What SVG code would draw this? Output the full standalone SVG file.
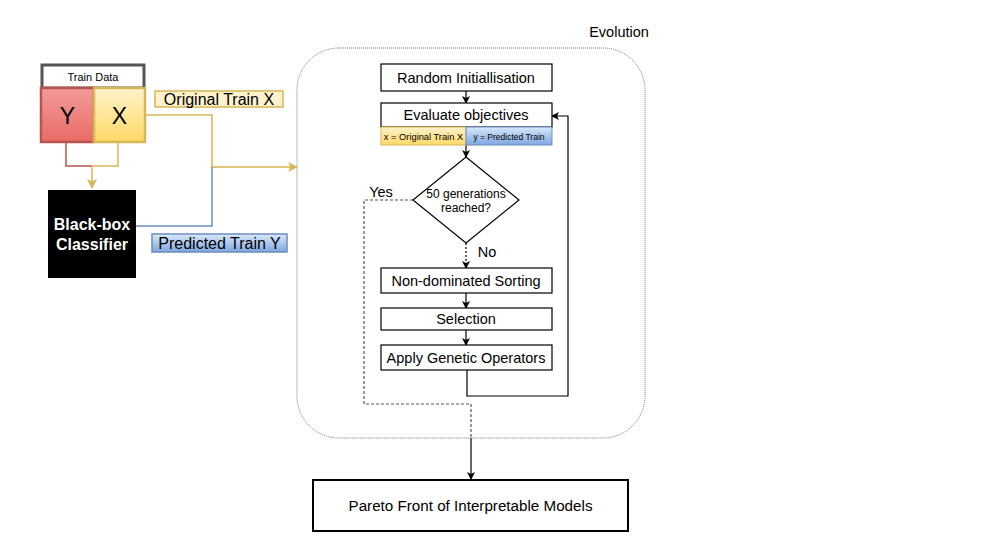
<svg xmlns="http://www.w3.org/2000/svg" width="989" height="556" viewBox="0 0 989 556">
<defs>
<linearGradient id="gY" x1="0" y1="0" x2="0" y2="1"><stop offset="0" stop-color="#f19c99"/><stop offset="1" stop-color="#ea6b66"/></linearGradient>
<linearGradient id="gX" x1="0" y1="0" x2="0" y2="1"><stop offset="0" stop-color="#fff2cc"/><stop offset="1" stop-color="#ffd966"/></linearGradient>
<linearGradient id="gB" x1="0" y1="0" x2="0" y2="1"><stop offset="0" stop-color="#dae8fc"/><stop offset="1" stop-color="#7ea6e0"/></linearGradient>
<marker id="ak" markerWidth="8" markerHeight="8" refX="7" refY="4" orient="auto" markerUnits="userSpaceOnUse"><path d="M0,0 L8,4 L0,8 L2,4 Z" fill="#000"/></marker>
<marker id="ay" markerWidth="10" markerHeight="10" refX="9" refY="5" orient="auto" markerUnits="userSpaceOnUse"><path d="M0,0 L10,5 L0,10 L2.5,5 Z" fill="#d6b656"/></marker>
</defs>
<style>
text{font-family:"Liberation Sans",Arial,sans-serif;fill:#000}
.box{fill:#fff;stroke:#000;stroke-width:1.2}
.t14{font-size:14.5px;text-anchor:middle}
.ln{fill:none;stroke:#000;stroke-width:1.2}
</style>
<rect width="989" height="556" fill="#fff"/>
<g id="evolution">
<rect x="297" y="48" width="348" height="390" rx="42" ry="42" fill="none" stroke="#777" stroke-width="1" stroke-dasharray="1,1"/>
<text x="619" y="37" class="t14">Evolution</text>
</g>
<g id="connectors">
<polyline points="66,142 66,166 92,166" fill="none" stroke="#b85450" stroke-width="1.5"/>
<polyline points="118,142 118,166 92,166 92,188" fill="none" stroke="#d6b656" stroke-width="1.5" marker-end="url(#ay)"/>
<polyline points="145,115 212,115 212,167 297,167" fill="none" stroke="#d6b656" stroke-width="1.5" marker-end="url(#ay)"/>
<polyline points="136,226 212,226 212,167" fill="none" stroke="#6c8ebf" stroke-width="1.5"/>
<line x1="466" y1="91" x2="466" y2="103" class="ln" marker-end="url(#ak)"/>
<line x1="466" y1="145" x2="466" y2="157" class="ln" marker-end="url(#ak)"/>
<line x1="466" y1="243" x2="466" y2="268" class="ln" stroke-dasharray="2,2" marker-end="url(#ak)"/>
<line x1="466" y1="293" x2="466" y2="308" class="ln" marker-end="url(#ak)"/>
<line x1="466" y1="330" x2="466" y2="345" class="ln" marker-end="url(#ak)"/>
<polyline points="467,370 467,396 568,396 568,116 552,116" class="ln" marker-end="url(#ak)"/>
<polyline points="413,200 364,200 364,404 471,404 471,438" fill="none" stroke="#555" stroke-width="1.2" stroke-dasharray="3,2"/>
<line x1="471" y1="438" x2="471" y2="479" class="ln" marker-end="url(#ak)"/>
<text x="381" y="197" class="t14">Yes</text>
<text x="487" y="257" class="t14">No</text>
</g>
<g id="train-data">
<rect x="42" y="65" width="102" height="23" fill="#fff" stroke="#555" stroke-width="3"/>
<text x="93" y="81" font-size="11" text-anchor="middle">Train Data</text>
</g>
<g id="y-box">
<rect x="41" y="88" width="53" height="54" fill="url(#gY)" stroke="#b85450" stroke-width="2.5"/>
<text x="67.5" y="124" font-size="23" text-anchor="middle">Y</text>
</g>
<g id="x-box">
<rect x="94" y="88" width="51" height="54" fill="url(#gX)" stroke="#d6b656" stroke-width="2.5"/>
<text x="119.5" y="124" font-size="23" text-anchor="middle">X</text>
</g>
<g id="original-train-x">
<rect x="155" y="91" width="128" height="16" fill="#fff2cc" stroke="#d6b656" stroke-width="1.5"/>
<text x="219" y="105" font-size="16" text-anchor="middle">Original Train X</text>
</g>
<g id="black-box">
<rect x="48" y="190" width="88" height="88" fill="#000"/>
<text x="92" y="230" font-size="16" font-weight="bold" text-anchor="middle" style="fill:#fff">Black-box</text>
<text x="92" y="250" font-size="16" font-weight="bold" text-anchor="middle" style="fill:#fff">Classifier</text>
</g>
<g id="predicted-train-y">
<rect x="152" y="234" width="135" height="18" fill="url(#gB)" stroke="#6c8ebf" stroke-width="1.5"/>
<text x="219.5" y="249" font-size="16" text-anchor="middle">Predicted Train Y</text>
</g>
<g id="random-init">
<rect x="381" y="64" width="171" height="27" class="box"/>
<text x="466" y="82.5" class="t14">Random Initiallisation</text>
</g>
<g id="evaluate">
<rect x="381" y="103" width="171" height="24" class="box"/>
<text x="466" y="120" class="t14">Evaluate objectives</text>
<rect x="381" y="127" width="85" height="18" fill="url(#gX)" stroke="#d6b656" stroke-width="1"/>
<text x="423.5" y="139.5" font-size="9.3" text-anchor="middle">x = Original Train X</text>
<rect x="466" y="127" width="86" height="18" fill="url(#gB)" stroke="#6c8ebf" stroke-width="1"/>
<text x="509" y="140" font-size="8.5" text-anchor="middle">y = Predicted Train</text>
</g>
<g id="decision">
<polygon points="466,157 519,200 466,243 413,200" fill="#fff" stroke="#000" stroke-width="1.2"/>
<text x="466" y="198" font-size="12" text-anchor="middle">50 generations</text>
<text x="466" y="212" font-size="12" text-anchor="middle">reached?</text>
</g>
<g id="non-dominated">
<rect x="381" y="268" width="171" height="25" class="box"/>
<text x="466" y="285.5" class="t14">Non-dominated Sorting</text>
</g>
<g id="selection">
<rect x="381" y="308" width="171" height="22" class="box"/>
<text x="466" y="324" class="t14">Selection</text>
</g>
<g id="genetic">
<rect x="381" y="345" width="171" height="25" class="box"/>
<text x="466" y="362.5" class="t14">Apply Genetic Operators</text>
</g>
<g id="pareto">
<rect x="313" y="480" width="315" height="51" fill="#fff" stroke="#000" stroke-width="2"/>
<text x="470.5" y="511" font-size="15.2" text-anchor="middle">Pareto Front of Interpretable Models</text>
</g>
</svg>
